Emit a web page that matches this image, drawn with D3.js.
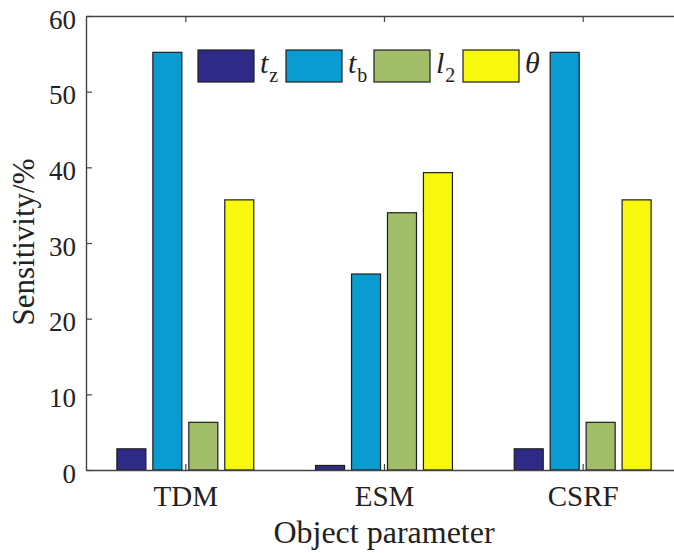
<!DOCTYPE html>
<html><head><meta charset="utf-8">
<script src="https://cdn.jsdelivr.net/npm/d3@7"></script>
<style>body{margin:0;background:#fff;} svg{display:block;}</style>
</head><body>
<svg id="c" width="674" height="553"></svg>
<script>
const categories = ["TDM", "ESM", "CSRF"];
const seriesKeys = ["tz", "tb", "l2", "theta"];
const tzValues = [2.8, 0.6, 2.8];
const tbValues = [55.2, 25.9, 55.2];
const l2Values = [6.3, 34.0, 6.3];
const thetaValues = [35.7, 39.3, 35.7];
const yTicks = [0, 10, 20, 30, 40, 50, 60];
const colors = {tz: "#2f2a87", tb: "#0a9bd0", l2: "#a3be6a", theta: "#f8f80e"};

const valuesBySeries = {tz: tzValues, tb: tbValues, l2: l2Values, theta: thetaValues};
const FONT = '"Liberation Serif", "Times New Roman", Times, serif';

const svg = d3.select("#c");
const L = 86, R = 682, T = 16, B = 470;

const x = d3.scaleLinear().domain([0.5, 3.5]).range([L, R]);
const y = d3.scaleLinear().domain([0, 60]).range([B, T]);
const barPitch = 0.181, barW = 0.146;

// bars
const g = svg.append("g");
categories.forEach((c, i) => {
  seriesKeys.forEach((k, j) => {
    const cx = (i + 1) + (j - 1.5) * barPitch;
    const v = valuesBySeries[k][i];
    g.append("rect")
      .attr("x", x(cx - barW / 2))
      .attr("width", x(cx + barW / 2) - x(cx - barW / 2))
      .attr("y", y(v))
      .attr("height", y(0) - y(v))
      .attr("fill", colors[k])
      .attr("stroke", "#1e1e1e")
      .attr("stroke-width", 1.2);
  });
});

// axes
const axCol = "#444";
const yAxis = svg.append("g").attr("transform", `translate(${L},0)`)
  .call(d3.axisLeft(y).tickValues(yTicks).tickSize(-6).tickPadding(10).tickSizeOuter(0));
const xAxis = svg.append("g").attr("transform", `translate(0,${B})`)
  .call(d3.axisBottom(x).tickValues([1, 2, 3]).tickFormat((d) => categories[d - 1]).tickSize(-6).tickPadding(15).tickSizeOuter(0));
const xTop = svg.append("g").attr("transform", `translate(0,${T})`)
  .call(d3.axisTop(x).tickValues([1, 2, 3]).tickFormat("").tickSize(-6).tickSizeOuter(0));
[yAxis, xAxis, xTop].forEach(a => {
  a.attr("font-family", FONT);
  a.selectAll("path").attr("stroke", axCol).attr("stroke-width", 1.4);
  a.selectAll("line").attr("stroke", axCol).attr("stroke-width", 1.2);
  a.selectAll("text").attr("fill", "#222").attr("font-family", FONT);
});
yAxis.attr("font-size", 27).selectAll("text").attr("font-size", 27).attr("dy", "0.45em");
xAxis.attr("font-size", 29).selectAll("text").attr("font-size", 29).attr("dy", "0.71em");

// axis titles
svg.append("text").attr("transform", "translate(34,242) rotate(-90)")
  .attr("text-anchor", "middle").attr("fill", "#222")
  .attr("font-family", FONT).attr("font-size", 31).text("Sensitivity/%");
svg.append("text").attr("x", 384).attr("y", 543)
  .attr("text-anchor", "middle").attr("fill", "#222")
  .attr("font-family", FONT).attr("font-size", 32).text("Object parameter");

// legend
const legend = svg.append("g").attr("font-family", FONT);
const legendItems = [
  {k: "tz", main: "t", sub: "z", x0: 198},
  {k: "tb", main: "t", sub: "b", x0: 286},
  {k: "l2", main: "l", sub: "2", x0: 374},
  {k: "theta", main: "θ", sub: "", x0: 463}
];
legendItems.forEach(it => {
  legend.append("rect").attr("x", it.x0).attr("y", 50).attr("width", 56).attr("height", 32)
    .attr("fill", colors[it.k]).attr("stroke", "#1e1e1e").attr("stroke-width", 1.2);
  const t = legend.append("text").attr("x", it.x0 + 62).attr("y", 73).attr("fill", "#222")
    .attr("font-family", FONT).attr("font-size", 30);
  t.append("tspan").attr("font-style", "italic").text(it.main);
  if (it.sub) t.append("tspan").attr("dx", 1).attr("dy", 9).attr("font-size", 20).text(it.sub);
});
</script>
</body></html>
